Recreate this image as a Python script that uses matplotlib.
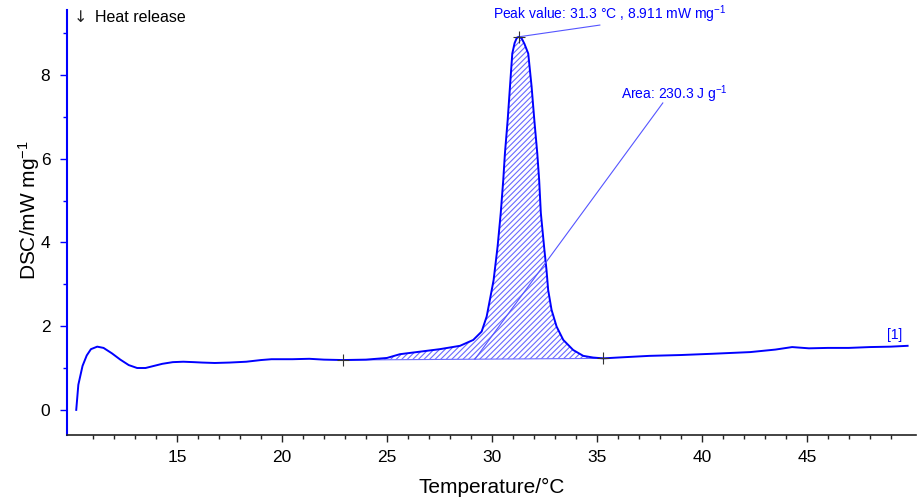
import numpy as np
import matplotlib
matplotlib.use("Agg")
import matplotlib.pyplot as plt

plt.rcParams['font.family'] = ['Liberation Sans', 'DejaVu Sans']
plt.rcParams['mathtext.fontset'] = 'custom'
plt.rcParams['mathtext.rm'] = 'Liberation Sans'
plt.rcParams['mathtext.it'] = 'Liberation Sans:italic'
plt.rcParams['hatch.linewidth'] = 0.8

temperature = [10.2, 10.3, 10.5, 10.7, 10.9, 11.2, 11.5, 11.9, 12.3, 12.7, 13.1, 13.5,
               13.9, 14.3, 14.8, 15.3, 15.8, 16.2, 16.8, 17.5, 18.3, 19.0, 19.5, 20.5,
               21.3, 22.0, 22.9, 24.0, 25.0, 25.62, 26.57, 27.52, 28.48, 29.11, 29.51,
               29.75, 29.93, 30.08, 30.27, 30.42, 30.54, 30.62, 30.75, 30.86, 30.97,
               31.08, 31.19, 31.3, 31.42, 31.55, 31.73, 31.89, 32.02, 32.16, 32.25,
               32.33, 32.5, 32.6, 32.68, 32.84, 33.08, 33.40, 33.87, 34.35, 34.82, 35.3,
               36.0, 37.5, 39.0, 40.5, 42.3, 43.5, 44.3, 45.1, 46.0, 47.0, 48.0, 49.0,
               49.8]
dsc = [0.0, 0.6, 1.05, 1.3, 1.45, 1.51, 1.48, 1.35, 1.2, 1.07, 1.0, 1.0,
       1.05, 1.1, 1.14, 1.15, 1.14, 1.13, 1.12, 1.13, 1.15, 1.19, 1.21, 1.21,
       1.22, 1.2, 1.19, 1.2, 1.24, 1.33, 1.39, 1.45, 1.53, 1.67, 1.87,
       2.23, 2.7, 3.1, 3.90, 4.70, 5.49, 6.13, 6.92, 7.72, 8.51,
       8.76, 8.89, 8.911, 8.87, 8.74, 8.51, 7.72, 6.92, 6.13, 5.49,
       4.70, 3.82, 3.34, 2.86, 2.39, 1.99, 1.67, 1.43, 1.29, 1.25, 1.23,
       1.25, 1.29, 1.31, 1.34, 1.38, 1.44, 1.5, 1.47, 1.48, 1.48, 1.5, 1.51,
       1.53]

base_x = [22.9, 35.3]
base_y = [1.19, 1.23]
peak_x, peak_y = 31.3, 8.911

x_major = [15, 20, 25, 30, 35, 40, 45]
y_major = [0, 2, 4, 6, 8]

fig = plt.figure(figsize=(9.18, 5.0), dpi=100)
ax = fig.add_axes([67/918, 65/500, (916-67)/918, (435-10)/500])

t = np.array(temperature)
d = np.array(dsc)
ax.plot(t, d, color='#0000ff', lw=1.4, zorder=3)

mask = (t >= base_x[0]) & (t <= base_x[1])
tb = t[mask]
base = np.interp(tb, base_x, base_y)
ax.fill_between(tb, d[mask], base, facecolor='none', edgecolor='#6a6aff',
                hatch='//////', lw=0, zorder=2)
ax.plot(base_x, base_y, color='#6a6aff', lw=0.8, zorder=2)

ax.plot(base_x + [peak_x], base_y + [peak_y], linestyle='none', marker='+',
        color='#333333', ms=8, mew=0.8, zorder=4)

# Annotations
ax.plot([peak_x, 35.14], [peak_y, 9.19], color='#5555ff', lw=0.8, zorder=3)
ax.text(35.6, 9.45, 'Peak value: 31.3 °C , 8.911 mW mg$^{-1}$', color='#0000ff',
        fontsize=10, ha='center', va='center')
ax.plot([38.14, 29.19], [7.33, 1.21], color='#5555ff', lw=0.8, zorder=3)
ax.text(38.71, 7.55, 'Area: 230.3 J g$^{-1}$', color='#0000ff',
        fontsize=10, ha='center', va='center')
ax.text(49.2, 1.8, '[1]', color='#0000ff', fontsize=10, ha='center', va='center')

fig.text(80/918, 1 - 18/500, '↓', fontsize=11.5, ha='center', va='center',
         color='#222222', family=['DejaVu Sans'])
fig.text(95/918, 1 - 18/500, 'Heat release', fontsize=11.5, ha='left', va='center',
         color='black')

ax.set_xlim(9.76, 50.2)
ax.set_ylim(-0.6, 9.55)
ax.set_xticks(x_major)
ax.set_xticks(np.arange(11, 50, 1), minor=True)
ax.set_yticks(y_major)
ax.set_yticks([1, 3, 5, 7, 9], minor=True)

for s in ['top', 'right']:
    ax.spines[s].set_visible(False)
ax.spines['left'].set_color('#0000ff')
ax.spines['left'].set_linewidth(1.5)
ax.spines['bottom'].set_color('#222222')
ax.spines['bottom'].set_linewidth(1.2)

ax.tick_params(axis='x', which='major', length=5, width=1, colors='#222222',
               labelsize=12.5, labelcolor='black', pad=6)
ax.tick_params(axis='x', which='minor', length=3, width=1, colors='#222222')
ax.tick_params(axis='y', which='major', length=5, width=1, colors='#0000ff',
               labelsize=12.5, labelcolor='black', pad=7)
ax.tick_params(axis='y', which='minor', length=3, width=1, colors='#0000ff')

ax.set_xlabel('Temperature/°C', fontsize=15, labelpad=9)
ax.set_ylabel('DSC/mW mg$^{-1}$', fontsize=15, labelpad=2)
ax.yaxis.set_label_coords(-25/849, 0.53)

fig.savefig('out.png', dpi=100)
